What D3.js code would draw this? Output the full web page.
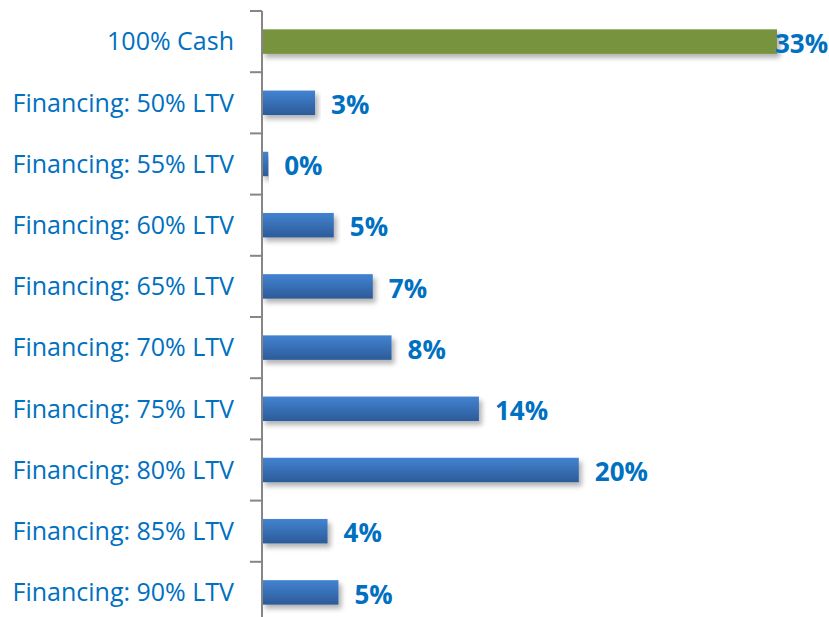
<!DOCTYPE html>
<meta charset="utf-8">
<head>
  <script src="https://d3js.org/d3.v7.min.js"></script>
</head>
<style>
  body { margin: 0; background: #fff; }
  .cat { font-family: "Open Sans", sans-serif; font-size: 25px; fill: #0070C0; }
  .val { font-family: "Open Sans", sans-serif; font-size: 26px; font-weight: bold; fill: #0070C0; }
</style>
<body>
<svg></svg>
<script>
// categories, top to bottom
let categories = ["100% Cash", "Financing: 50% LTV", "Financing: 55% LTV", "Financing: 60% LTV",
  "Financing: 65% LTV", "Financing: 70% LTV", "Financing: 75% LTV", "Financing: 80% LTV",
  "Financing: 85% LTV", "Financing: 90% LTV"];
// share of respondents (%)
let values = [33, 3.4, 0.4, 4.6, 7.1, 8.3, 13.9, 20.3, 4.2, 4.9];
// labels as printed on the chart
let valueLabels = ["33%", "3%", "0%", "5%", "7%", "8%", "14%", "20%", "4%", "5%"];

let width = 829, height = 617;
let axisX = 262;

let svg = d3.select("svg").attr("width", width).attr("height", height);

let defs = svg.append("defs");
let grad = defs.append("linearGradient").attr("id", "blueGrad")
  .attr("x1", 0).attr("y1", 0).attr("x2", 0).attr("y2", 1);
grad.append("stop").attr("offset", "0%").attr("stop-color", "#4383D2");
grad.append("stop").attr("offset", "100%").attr("stop-color", "#2C5B98");

let shadow = defs.append("filter").attr("id", "shadow")
  .attr("x", "-5%").attr("y", "-20%").attr("width", "115%").attr("height", "170%");
shadow.append("feDropShadow").attr("dx", 3).attr("dy", 4).attr("stdDeviation", 2.5)
  .attr("flood-color", "#000").attr("flood-opacity", 0.3);

let x = d3.scaleLinear().domain([0, 33]).range([axisX, 777]);
let y = d3.scaleBand().domain(categories).range([11, 623]).paddingInner(0.6).paddingOuter(0.3);
let step = y.step();

// bars
svg.selectAll(".bar").data(values).enter().append("rect")
  .attr("class", "bar")
  .attr("x", x(0))
  .attr("y", (d, i) => y(categories[i]))
  .attr("width", d => x(d) - x(0))
  .attr("height", y.bandwidth())
  .attr("fill", (d, i) => i === 0 ? "#77933C" : "url(#blueGrad)")
  .attr("filter", "url(#shadow)");

// axis line and ticks
let ticks = d3.range(categories.length + 1).map(i => 11 + i * step);
svg.append("line").attr("x1", axisX).attr("x2", axisX).attr("y1", 11).attr("y2", height)
  .attr("stroke", "#868686").attr("stroke-width", 2);
svg.selectAll(".tick").data(ticks).enter().append("line")
  .attr("x1", axisX - 12).attr("x2", axisX).attr("y1", d => d).attr("y2", d => d)
  .attr("stroke", "#868686").attr("stroke-width", 2);

// category labels
svg.selectAll(".cat").data(categories).enter().append("text")
  .attr("class", "cat")
  .attr("x", 234)
  .attr("y", d => y(d) + y.bandwidth() / 2)
  .attr("dy", "0.35em")
  .attr("text-anchor", "end")
  .text(d => d);

// value labels
svg.selectAll(".val").data(values).enter().append("text")
  .attr("class", "val")
  .attr("x", d => Math.min(x(d) + 16, 775))
  .attr("y", (d, i) => y(categories[i]) + y.bandwidth() / 2 + 2)
  .attr("dy", "0.35em")
  .text((d, i) => valueLabels[i]);
</script>
</body>
